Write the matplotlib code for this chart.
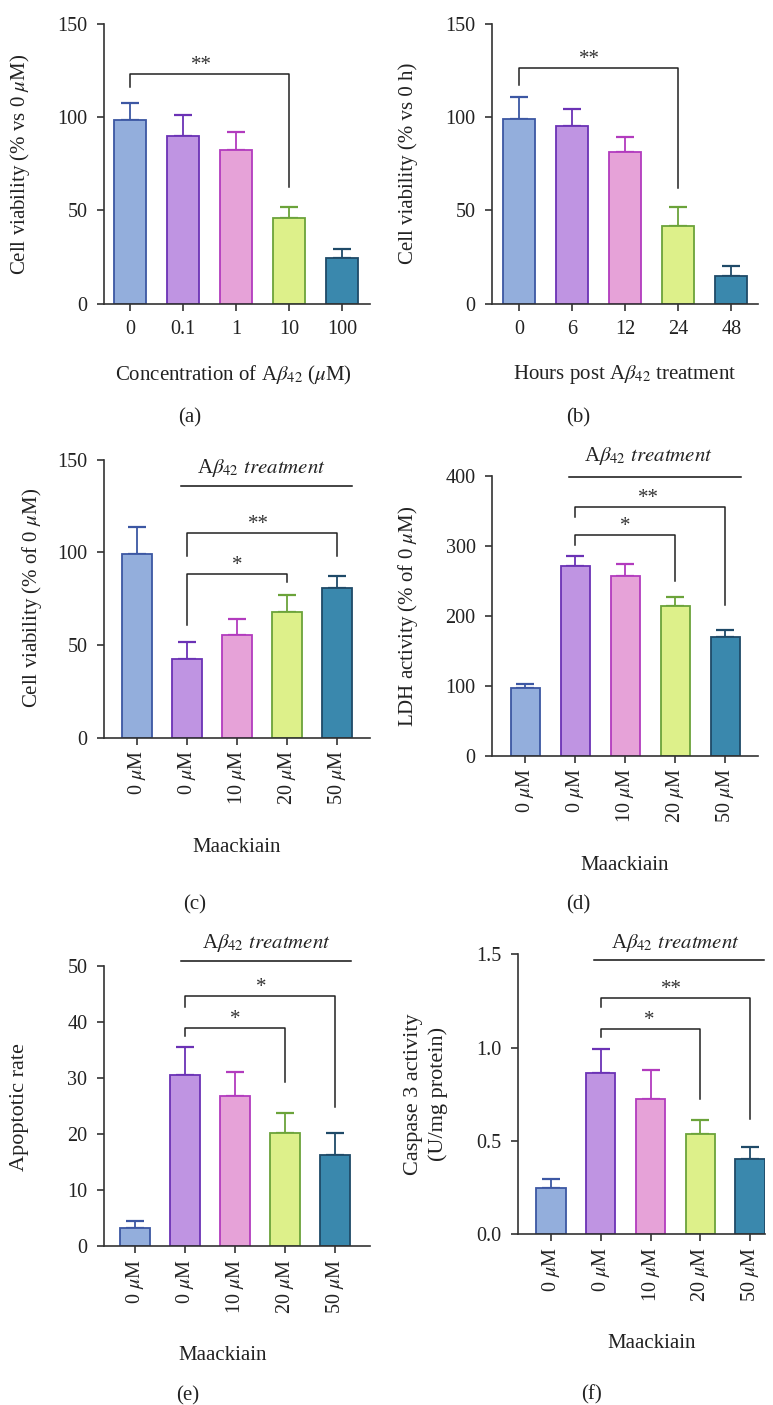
import matplotlib
matplotlib.use('Agg')
import matplotlib.pyplot as plt
import numpy as np

# ---------------- data ----------------
fill_colors = ['#93AEDC', '#BF94E2', '#E6A2D8', '#DDF08A', '#3A88AD']
edge_colors = ['#3C57A3', '#6B32B5', '#B23BBE', '#6BA33A', '#1F4A68']

labels_a = ['0', '0.1', '1', '10', '100']
mean_a = [98.5, 89.9, 82.6, 46.0, 24.3]
err_a = [9.3, 11.3, 9.5, 5.7, 5.2]

labels_b = ['0', '6', '12', '24', '48']
mean_b = [99.0, 95.5, 81.4, 41.5, 14.8]
err_b = [11.9, 9.1, 8.0, 10.4, 5.4]

labels_maack = [r'0 $\mu$M', r'0 $\mu$M', r'10 $\mu$M', r'20 $\mu$M', r'50 $\mu$M']

mean_c = [99.3, 42.3, 55.2, 68.0, 80.8]
err_c = [14.2, 9.1, 8.8, 9.2, 6.4]

mean_d = [96.7, 271.4, 256.2, 214.3, 170.0]
err_d = [6.2, 14.3, 17.1, 12.8, 9.5]

mean_e = [3.2, 30.6, 26.8, 20.2, 16.3]
err_e = [1.3, 4.9, 4.2, 3.6, 3.9]

mean_f = [0.246, 0.864, 0.723, 0.536, 0.405]
err_f = [0.052, 0.131, 0.159, 0.078, 0.061]

# brackets: (bar1, bar2, top y, left drop, right drop, stars, star x)
brackets_a = [(0, 3, 123.2, 116.4, 62.8, '**', 1.35)]
brackets_b = [(0, 3, 126.4, 117.3, 61.9, '**', 1.32)]
brackets_c = [(1, 4, 110.6, 98.2, 98.2, '**', 2.42), (1, 3, 88.5, 60.8, 84.2, '*', 2.0)]
brackets_d = [(1, 4, 355.7, 340.5, 215.2, '**', 2.46), (1, 3, 315.7, 300.5, 250.0, '*', 1.99)]
brackets_e = [(1, 4, 44.6, 42.7, 24.9, '*', 2.53), (1, 3, 38.9, 37.5, 29.2, '*', 2.0)]
brackets_f = [(1, 4, 1.268, 1.216, 0.616, '**', 2.42), (1, 3, 1.102, 1.055, 0.723, '*', 1.97)]

treat_label = r'A$\beta_{42}$ $\mathit{treatment}$'

# ---------------- style ----------------
plt.rcParams['font.family'] = ['Liberation Serif', 'DejaVu Serif']
plt.rcParams['mathtext.fontset'] = 'stix'
plt.rcParams['axes.edgecolor'] = '#333333'
plt.rcParams['axes.linewidth'] = 1.2
plt.rcParams['xtick.color'] = '#333333'
plt.rcParams['ytick.color'] = '#333333'
plt.rcParams['xtick.labelcolor'] = '#222222'
plt.rcParams['ytick.labelcolor'] = '#222222'
plt.rcParams['text.color'] = '#222222'

W, H = 773, 1405
fig = plt.figure(figsize=(W / 100, H / 100), dpi=100)

FS = 14.5   # tick labels
LFS = 15    # axis labels


def make_axes(l, t, r, b):
    return fig.add_axes([l / W, 1 - b / H, (r - l) / W, (b - t) / H])


def draw_panel(ax, means, errs, xlim, ylim, yticks, ytl, width):
    x = np.arange(len(means))
    ax.bar(x, means, width=width, color=fill_colors, edgecolor=edge_colors, linewidth=1.3, zorder=2)
    for i in range(len(means)):
        ax.errorbar(x[i], means[i], yerr=[[0], [errs[i]]], ecolor=edge_colors[i],
                    elinewidth=1.3, capsize=6.3, capthick=1.6, fmt='none', zorder=1)
    ax.set_xlim(*xlim)
    ax.set_ylim(*ylim)
    ax.set_yticks(yticks)
    ax.set_yticklabels(ytl, fontsize=FS)
    ax.spines['top'].set_visible(False)
    ax.spines['right'].set_visible(False)
    ax.tick_params(axis='both', length=5, width=1.2, direction='out')
    ax.tick_params(axis='y', pad=7)


def draw_brackets(ax, brackets):
    for (b1, b2, y, d1, d2, stars, sx) in brackets:
        ax.plot([b1, b1, b2, b2], [d1, y, y, d2], color='#222222', lw=1.1, zorder=3, clip_on=False)
        ax.annotate(stars, xy=(sx, y), xytext=(0, -1), textcoords='offset points',
                    ha='center', va='bottom', fontsize=15, color='#333333')


def draw_treatment(ax, x0, x1, yline, xt, yt):
    ax.plot([x0, x1], [yline, yline], color='#111111', lw=1.1, clip_on=False)
    ax.text(xt, yt, treat_label, ha='center', va='center', fontsize=LFS, clip_on=False)


# -------- (a) --------
ax = make_axes(104, 24, 370, 303.7)
draw_panel(ax, mean_a, err_a, (-0.49, 4.53), (0, 150), [0, 50, 100, 150], ['0', '50', '100', '150'], 0.6)
ax.set_xticks(range(5))
ax.set_xticklabels(labels_a, fontsize=FS)
ax.tick_params(axis='x', pad=7)
draw_brackets(ax, brackets_a)
fig.text(20 / W, 1 - 164 / H, r'Cell viability (% vs 0 $\mu$M)', rotation=90, ha='center', va='center', fontsize=LFS)
fig.text(233 / W, 1 - 375 / H, r'Concentration of A$\beta_{42}$ ($\mu$M)', ha='center', va='center', fontsize=LFS)
fig.text(190 / W, 1 - 418 / H, '(a)', ha='center', va='center', fontsize=LFS)

# -------- (b) --------
ax = make_axes(492.3, 24, 758.3, 303.7)
draw_panel(ax, mean_b, err_b, (-0.51, 4.51), (0, 150), [0, 50, 100, 150], ['0', '50', '100', '150'], 0.6)
ax.set_xticks(range(5))
ax.set_xticklabels(labels_b, fontsize=FS)
ax.tick_params(axis='x', pad=7)
draw_brackets(ax, brackets_b)
fig.text(408 / W, 1 - 163 / H, 'Cell viability (% vs 0 h)', rotation=90, ha='center', va='center', fontsize=LFS)
fig.text(625 / W, 1 - 375 / H, r'Hours post A$\beta_{42}$ treatment', ha='center', va='center', fontsize=LFS)
fig.text(578 / W, 1 - 418 / H, '(b)', ha='center', va='center', fontsize=LFS)

# -------- (c) --------
ax = make_axes(104, 459.7, 370, 737.7)
draw_panel(ax, mean_c, err_c, (-0.66, 4.66), (0, 150), [0, 50, 100, 150], ['0', '50', '100', '150'], 0.59)
ax.set_xticks(range(5))
ax.set_xticklabels(labels_maack, fontsize=FS, rotation=90)
ax.tick_params(axis='x', pad=4)
draw_brackets(ax, brackets_c)
draw_treatment(ax, 0.88, 4.31, 136.0, 2.49, 145.5)
fig.text(32 / W, 1 - 598 / H, r'Cell viability (% of 0 $\mu$M)', rotation=90, ha='center', va='center', fontsize=LFS)
fig.text(237 / W, 1 - 847 / H, 'Maackiain', ha='center', va='center', fontsize=LFS)
fig.text(195 / W, 1 - 905 / H, '(c)', ha='center', va='center', fontsize=LFS)

# -------- (d) --------
ax = make_axes(492.3, 475.7, 758.3, 755.7)
draw_panel(ax, mean_d, err_d, (-0.66, 4.66), (0, 400), [0, 100, 200, 300, 400],
           ['0', '100', '200', '300', '400'], 0.59)
ax.set_xticks(range(5))
ax.set_xticklabels(labels_maack, fontsize=FS, rotation=90)
ax.tick_params(axis='x', pad=4)
draw_brackets(ax, brackets_d)
draw_treatment(ax, 0.88, 4.31, 398.0, 2.46, 428.0)
fig.text(408 / W, 1 - 616 / H, r'LDH activity (% of 0 $\mu$M)', rotation=90, ha='center', va='center', fontsize=LFS)
fig.text(625 / W, 1 - 865 / H, 'Maackiain', ha='center', va='center', fontsize=LFS)
fig.text(578 / W, 1 - 905 / H, '(d)', ha='center', va='center', fontsize=LFS)

# -------- (e) --------
ax = make_axes(104, 965.7, 370, 1246.3)
draw_panel(ax, mean_e, err_e, (-0.62, 4.7), (0, 50), [0, 10, 20, 30, 40, 50],
           ['0', '10', '20', '30', '40', '50'], 0.59)
ax.set_xticks(range(5))
ax.set_xticklabels(labels_maack, fontsize=FS, rotation=90)
ax.tick_params(axis='x', pad=4)
draw_brackets(ax, brackets_e)
draw_treatment(ax, 0.92, 4.32, 50.8, 2.63, 54.0)
fig.text(20 / W, 1 - 1107 / H, 'Apoptotic rate', rotation=90, ha='center', va='center', fontsize=16)
fig.text(223 / W, 1 - 1356 / H, 'Maackiain', ha='center', va='center', fontsize=LFS)
fig.text(188 / W, 1 - 1396 / H, '(e)', ha='center', va='center', fontsize=LFS)

# -------- (f) --------
ax = make_axes(517.7, 954.3, 765, 1234.3)
draw_panel(ax, mean_f, err_f, (-0.67, 4.3), (0, 1.5), [0, 0.5, 1.0, 1.5],
           ['0.0', '0.5', '1.0', '1.5'], 0.59)
ax.set_xticks(range(5))
ax.set_xticklabels(labels_maack, fontsize=FS, rotation=90)
ax.tick_params(axis='x', pad=4)
draw_brackets(ax, brackets_f)
draw_treatment(ax, 0.86, 4.27, 1.47, 2.5, 1.559)
fig.text(426 / W, 1 - 1094 / H, 'Caspase 3 activity\n(U/mg protein)', rotation=90, ha='center', va='center',
         fontsize=16, linespacing=1.3)
fig.text(652 / W, 1 - 1344 / H, 'Maackiain', ha='center', va='center', fontsize=LFS)
fig.text(591 / W, 1 - 1395 / H, '(f)', ha='center', va='center', fontsize=LFS)

fig.savefig('out.png', dpi=100)
